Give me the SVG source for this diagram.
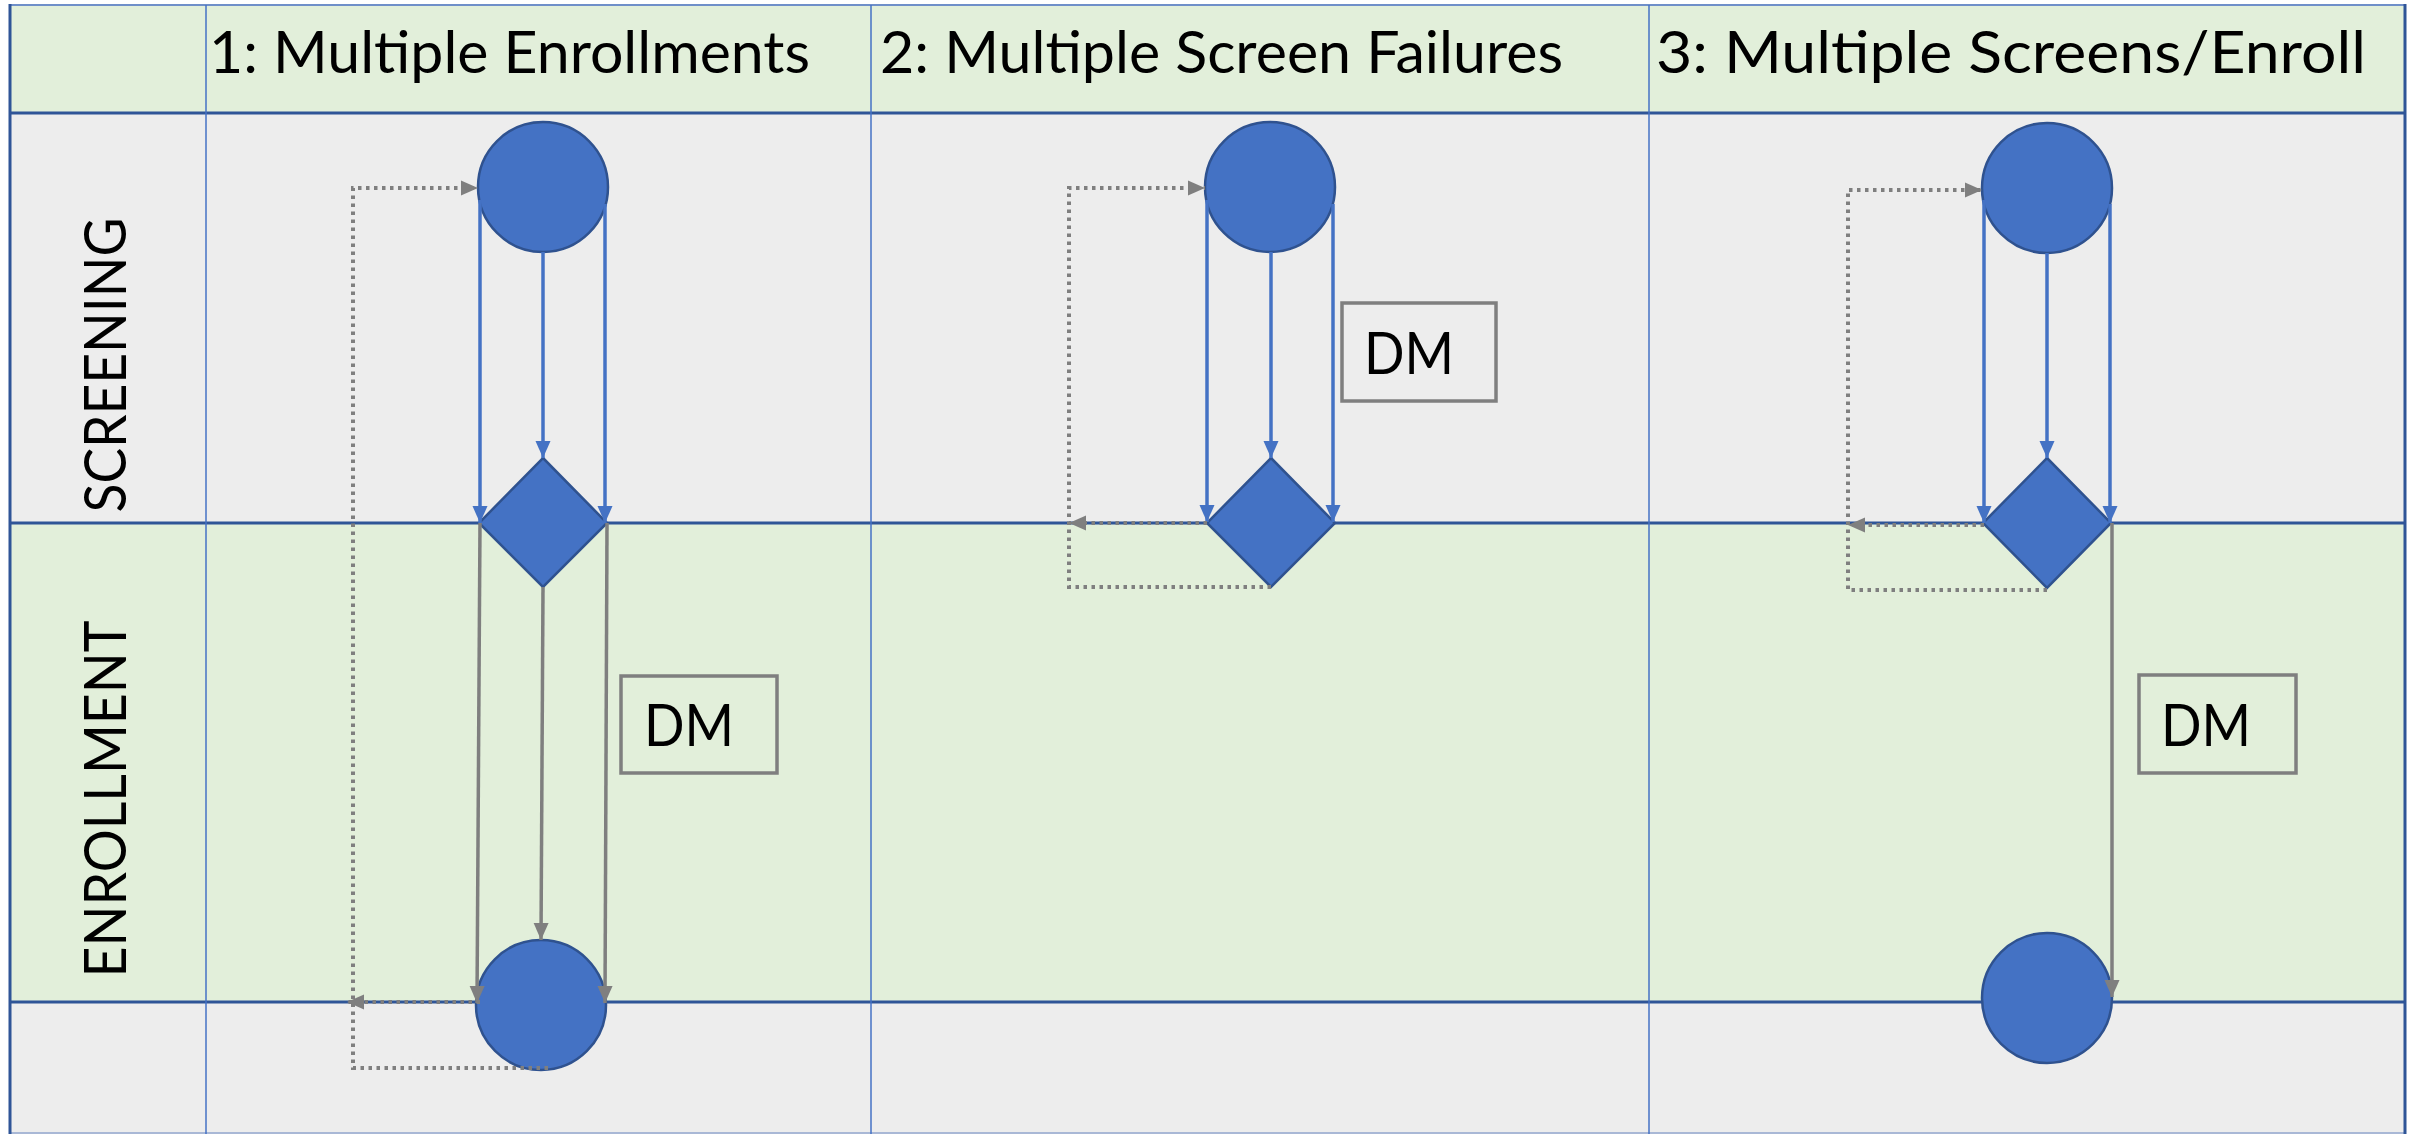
<svg xmlns="http://www.w3.org/2000/svg" width="2414" height="1134" viewBox="0 0 2414 1134">
<style>
.lane-g{fill:#E2EFDA}
.lane-s{fill:#EDEDED}
.hdiv{stroke:#2F5597;stroke-width:3;fill:none}
.vdiv{stroke:#4472C4;stroke-width:1.5;fill:none}
.txt{font-family:Lato,"Open Sans","Liberation Sans",sans-serif;font-size:58px;fill:#000}
.node{fill:#4472C4;stroke:#2F528F;stroke-width:2.5}
.dm{fill:none;stroke:#7F7F7F;stroke-width:3.5}
.blue{stroke:#4472C4;stroke-width:3.5;fill:none;marker-end:url(#ab)}
.gray{stroke:#7F7F7F;stroke-width:3.5;fill:none;marker-end:url(#ag)}
.dota{stroke:#7F7F7F;stroke-width:4;fill:none;stroke-dasharray:3.5 4.5;marker-end:url(#ag)}
</style>
<defs>
<marker id="ab" markerUnits="userSpaceOnUse" markerWidth="17" markerHeight="17" viewBox="0 0 17 17" refX="17" refY="8.5" orient="auto"><path d="M0,1 L17,8.5 L0,16 z" fill="#4472C4"/></marker>
<marker id="ag" markerUnits="userSpaceOnUse" markerWidth="17" markerHeight="17" viewBox="0 0 17 17" refX="17" refY="8.5" orient="auto"><path d="M0,1 L17,8.5 L0,16 z" fill="#7F7F7F"/></marker>
</defs>
<rect x="0" y="0" width="2414" height="1134" fill="#FFFFFF"/>
<g id="lanes">
<rect class="lane-g" x="10" y="5" width="2395" height="108"/>
<rect class="lane-s" x="10" y="113" width="2395" height="410"/>
<rect class="lane-g" x="10" y="523" width="2395" height="479"/>
<rect class="lane-s" x="10" y="1002" width="2395" height="131"/>
<line x1="10" y1="5" x2="2405" y2="5" stroke="#6F8FC9" stroke-width="2"/>
<line x1="10" y1="1133" x2="2405" y2="1133" stroke="#A9B8D6" stroke-width="2"/>
<line class="hdiv" x1="10" y1="113" x2="2405" y2="113"/>
<line class="hdiv" x1="10" y1="523" x2="2405" y2="523"/>
<line class="hdiv" x1="10" y1="1002" x2="2405" y2="1002"/>
<line class="vdiv" x1="206" y1="5" x2="206" y2="1134"/>
<line class="vdiv" x1="871" y1="5" x2="871" y2="1134"/>
<line class="vdiv" x1="1649" y1="5" x2="1649" y2="1134"/>
<line x1="10" y1="4" x2="10" y2="1134" stroke="#2F5597" stroke-width="3"/>
<line x1="2405" y1="4" x2="2405" y2="1134" stroke="#2F5597" stroke-width="3"/>
</g>
<g id="labels">
<text class="txt" x="209" y="73" textLength="601" lengthAdjust="spacingAndGlyphs">1: Multiple Enrollments</text>
<text class="txt" x="880" y="73" textLength="683" lengthAdjust="spacingAndGlyphs">2: Multiple Screen Failures</text>
<text class="txt" x="1656" y="73" textLength="710" lengthAdjust="spacingAndGlyphs">3: Multiple Screens/Enroll</text>
<text class="txt" x="126" y="365" text-anchor="middle" transform="rotate(-90 126 365)" textLength="295" lengthAdjust="spacingAndGlyphs">SCREENING</text>
<text class="txt" x="126" y="799" text-anchor="middle" transform="rotate(-90 126 799)" textLength="357" lengthAdjust="spacingAndGlyphs">ENROLLMENT</text>
</g>
<g id="col1-screen"><circle class="node" cx="543" cy="187" r="65"/></g>
<g id="col1-decision"><path class="node" d="M543,458 L607,523 L543,587 L479,523 z"/></g>
<g id="col1-enroll"><circle class="node" cx="541" cy="1005" r="65"/></g>
<g id="col1-dm"><rect class="dm" x="621" y="676" width="156" height="97"/><text class="txt" x="644" y="746" textLength="90" lengthAdjust="spacingAndGlyphs">DM</text></g>
<g id="col2-screen"><circle class="node" cx="1270" cy="187" r="65"/></g>
<g id="col2-decision"><path class="node" d="M1271,458 L1335,523 L1271,587 L1207,523 z"/></g>
<g id="col2-dm"><rect class="dm" x="1342" y="303" width="154" height="98"/><text class="txt" x="1364" y="374" textLength="90" lengthAdjust="spacingAndGlyphs">DM</text></g>
<g id="col3-screen"><circle class="node" cx="2047" cy="188" r="65"/></g>
<g id="col3-decision"><path class="node" d="M2047,458 L2111,523 L2047,588 L1983,523 z"/></g>
<g id="col3-enroll"><circle class="node" cx="2047" cy="998" r="65"/></g>
<g id="col3-dm"><rect class="dm" x="2139" y="675" width="157" height="98"/><text class="txt" x="2161" y="746" textLength="90" lengthAdjust="spacingAndGlyphs">DM</text></g>
<g id="connectors">
<path class="blue" d="M480,200 L480,523"/>
<path class="blue" d="M543,252 L543,458"/>
<path class="blue" d="M605,204 L605,523"/>
<path class="gray" d="M480,523 L477,1003"/>
<path class="gray" d="M543,587 L541,940"/>
<path class="gray" d="M607,523 L605,1003"/>
<path class="dota" d="M548,1068 L353,1068 L353,188 L478,188"/>
<path class="dota" d="M480,1002 L347,1002"/>
<path class="blue" d="M1207,200 L1207,522"/>
<path class="blue" d="M1271,252 L1271,458"/>
<path class="blue" d="M1333,204 L1333,522"/>
<path class="dota" d="M1271,587 L1069,587 L1069,188 L1205,188"/>
<path class="dota" d="M1207,523 L1069,523"/>
<path class="blue" d="M1984,200 L1984,523"/>
<path class="blue" d="M2047,253 L2047,458"/>
<path class="blue" d="M2110,204 L2110,523"/>
<path class="dota" d="M2047,590 L1848,590 L1848,190 L1982,190"/>
<path class="dota" d="M1984,525 L1848,525"/>
<path class="gray" d="M2112,523 L2112,997"/>
</g>
</svg>
